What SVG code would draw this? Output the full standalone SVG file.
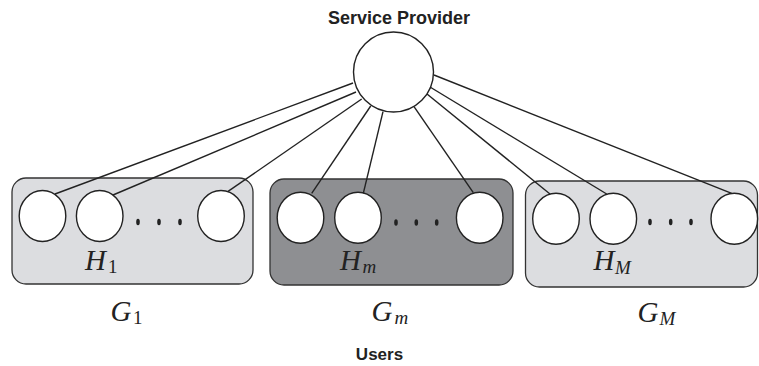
<svg xmlns="http://www.w3.org/2000/svg" width="759" height="366" viewBox="0 0 759 366">
<style>
.title{font-family:"Liberation Sans",Arial,sans-serif;font-weight:bold;fill:#222;text-anchor:middle}
.math{font-family:"Liberation Serif","Times New Roman",serif;font-style:italic;fill:#222;font-size:29px}
.sub{font-size:19px}
.up{font-style:normal}
.box{stroke:#333;stroke-width:1.3}
.light{fill:#dcdde0}
.dark{fill:#8e8f92}
.user{fill:#fff;stroke:#222;stroke-width:1.4}
.dot{fill:#222}
.conn line{stroke:#222;stroke-width:1.4}
</style>
<rect width="759" height="366" fill="#fff"/>
<text class="title" x="399" y="23.5" font-size="18">Service Provider</text>
<text class="title" x="379.5" y="360" font-size="17">Users</text>

<g id="service-provider">
<circle cx="393.5" cy="72" r="40" class="user"/>
</g>

<g id="group-G1">
<rect class="box light" x="12" y="178" width="241" height="106" rx="14"/>
<ellipse class="user" cx="42.5" cy="216" rx="23.3" ry="25.5"/>
<ellipse class="user" cx="99.7" cy="216" rx="23.3" ry="25.5"/>
<ellipse class="user" cx="221" cy="216" rx="23.3" ry="25.5"/>
<ellipse class="dot" cx="138" cy="222" rx="1.8" ry="3.2"/>
<ellipse class="dot" cx="159" cy="222" rx="1.8" ry="3.2"/>
<ellipse class="dot" cx="180" cy="222" rx="1.8" ry="3.2"/>
<text class="math" x="85" y="269.5">H<tspan class="sub up" x="108" y="273">1</tspan></text>
<text class="math" x="110.5" y="321">G<tspan class="sub up" x="133" y="324">1</tspan></text>
</g>

<g id="group-Gm">
<rect class="box dark" x="270" y="179" width="243" height="106" rx="14"/>
<ellipse class="user" cx="300.5" cy="217.7" rx="23.3" ry="25.5"/>
<ellipse class="user" cx="358" cy="217.7" rx="23.3" ry="25.5"/>
<ellipse class="user" cx="479.7" cy="217.7" rx="23.3" ry="25.5"/>
<ellipse class="dot" cx="396" cy="222.5" rx="1.8" ry="3.2"/>
<ellipse class="dot" cx="416.3" cy="222.5" rx="1.8" ry="3.2"/>
<ellipse class="dot" cx="436.7" cy="222.5" rx="1.8" ry="3.2"/>
<text class="math" x="340" y="269.5">H<tspan class="sub" x="362.5" y="273">m</tspan></text>
<text class="math" x="371.5" y="321">G<tspan class="sub" x="394.5" y="324">m</tspan></text>
</g>

<g id="group-GM">
<rect class="box light" x="525.5" y="181" width="232" height="106" rx="14"/>
<ellipse class="user" cx="556" cy="218.7" rx="23.3" ry="25.5"/>
<ellipse class="user" cx="613.3" cy="218.7" rx="23.3" ry="25.5"/>
<ellipse class="user" cx="734.3" cy="218.7" rx="23.3" ry="25.5"/>
<ellipse class="dot" cx="650" cy="222" rx="1.8" ry="3.2"/>
<ellipse class="dot" cx="670.7" cy="222" rx="1.8" ry="3.2"/>
<ellipse class="dot" cx="691" cy="222" rx="1.8" ry="3.2"/>
<text class="math" x="593.5" y="270">H<tspan class="sub" x="615" y="273.5">M</tspan></text>
<text class="math" x="637.5" y="321.5">G<tspan class="sub" x="659.5" y="325">M</tspan></text>
</g>

<g id="connectors" class="conn">
<line x1="353" y1="83" x2="55" y2="194"/>
<line x1="356" y1="92" x2="113" y2="195"/>
<line x1="361.7" y1="99" x2="227.7" y2="191.7"/>
<line x1="370.7" y1="106" x2="311.7" y2="193.3"/>
<line x1="383" y1="111.7" x2="363.3" y2="193.3"/>
<line x1="414" y1="106.7" x2="473.3" y2="192.7"/>
<line x1="427" y1="94" x2="550" y2="194"/>
<line x1="430" y1="87" x2="606.7" y2="194"/>
<line x1="434" y1="75" x2="731.7" y2="193.3"/>
</g>
</svg>
